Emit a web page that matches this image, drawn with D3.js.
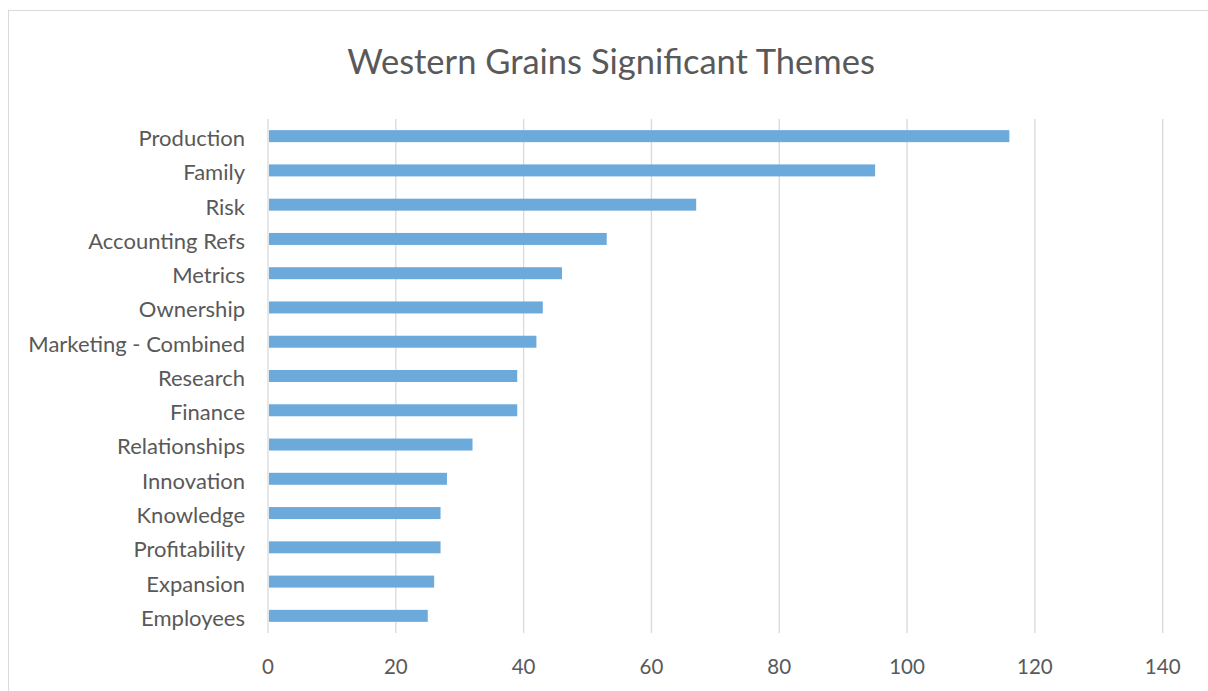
<!DOCTYPE html>
<html><head><meta charset="utf-8">
<script src="https://cdn.jsdelivr.net/npm/d3@7/dist/d3.min.js"></script>
<style>
html,body{margin:0;padding:0;background:#fff;}
svg{display:block;}
</style></head>
<body>
<svg id="chart" width="1208" height="691"></svg>
<script>
const categories = ["Production","Family","Risk","Accounting Refs","Metrics","Ownership","Marketing - Combined","Research","Finance","Relationships","Innovation","Knowledge","Profitability","Expansion","Employees"];
const values = [116,95,67,53,46,43,42,39,39,32,28,27,27,26,25];
const xTicks = [0,20,40,60,80,100,120,140];
const title = "Western Grains Significant Themes";

(function(){
const svg = d3.select("#chart");
const font = "Lato, 'Open Sans', sans-serif";
const textColor = "#595959";

svg.append("rect").attr("x",8.5).attr("y",10.5).attr("width",1220).attr("height",700)
  .attr("fill","#fff").attr("stroke","#d9d9d9").attr("stroke-width",1);

const pLeft = 268, pRight = 1162.7, pTop = 119, pBottom = 633;
const x = d3.scaleLinear().domain([0,140]).range([pLeft,pRight]);
const y = d3.scaleBand().domain(categories).range([pTop,pBottom]).paddingInner(0.65).paddingOuter(0.325);

svg.append("g").selectAll("line").data(xTicks).join("line")
  .attr("x1",d=>x(d)).attr("x2",d=>x(d)).attr("y1",pTop).attr("y2",pBottom)
  .attr("stroke","#d9d9d9").attr("stroke-width",1.3);

svg.append("g").selectAll("rect").data(values).join("rect")
  .attr("x",x(0)+1).attr("y",(d,i)=>y(categories[i]))
  .attr("width",d=>x(d)-x(0)-1).attr("height",y.bandwidth())
  .attr("fill","#6caadc");

svg.append("g").selectAll("text").data(categories).join("text")
  .attr("x",245).attr("y",d=>y(d)+y.bandwidth()/2+2).attr("dy","0.36em")
  .attr("text-anchor","end").attr("font-family",font).attr("font-size",22)
  .attr("fill",textColor).text(d=>d);

svg.append("g").selectAll("text").data(xTicks).join("text")
  .attr("x",d=>x(d)).attr("y",667).attr("dy","0.36em")
  .attr("text-anchor","middle").attr("font-family",font).attr("font-size",20.5)
  .attr("fill",textColor).text(d=>d);

svg.append("text").attr("x",611).attr("y",62).attr("dy","0.36em")
  .attr("text-anchor","middle").attr("font-family",font).attr("font-size",34.5)
  .attr("fill",textColor).text(title);
})();
</script>
</body></html>
